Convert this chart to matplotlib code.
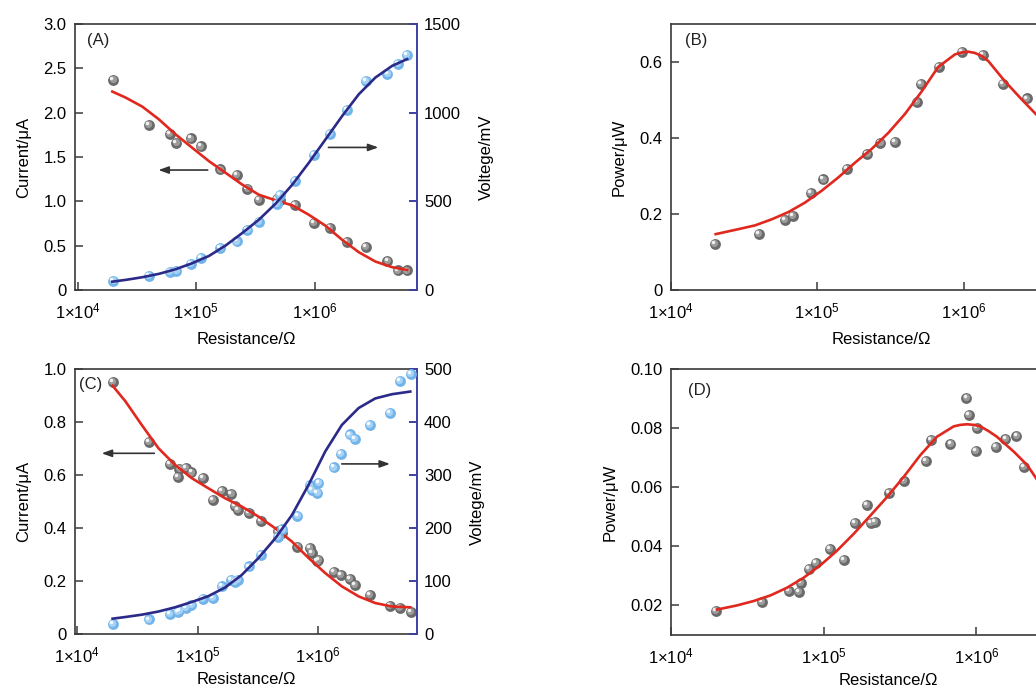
import matplotlib
matplotlib.use("Agg")
import matplotlib.pyplot as plt
import matplotlib.transforms as mtransforms
from matplotlib.ticker import FixedLocator, NullLocator

plt.rcParams['font.family'] = ['Liberation Sans', 'DejaVu Sans']
plt.rcParams['mathtext.fontset'] = 'custom'
plt.rcParams['mathtext.rm'] = 'Liberation Sans'
plt.rcParams['mathtext.it'] = 'Liberation Sans:italic'
plt.rcParams['mathtext.bf'] = 'Liberation Sans:bold'

# --- measured points, cell 1 (panels A and B) ---
R_AB = [2.0e4, 4.0e4, 6.0e4, 6.8e4, 9.0e4, 1.1e5, 1.6e5, 2.2e5, 2.7e5, 3.4e5,
        4.8e5, 5.1e5, 6.8e5, 9.8e5, 1.35e6, 1.85e6, 2.7e6, 4.1e6, 5.0e6, 6.0e6]
I_A = [2.37, 1.86, 1.76, 1.66, 1.71, 1.62, 1.36, 1.30, 1.14, 1.02,
       1.03, 1.015, 0.955, 0.76, 0.70, 0.54, 0.49, 0.33, 0.22, 0.22]
V_A = [51, 79, 100, 109, 147, 181, 236, 274, 340, 383,
       485, 534, 617, 760, 881, 1015, 1179, 1217, 1277, 1325]
P_B = [0.122, 0.147, 0.185, 0.195, 0.256, 0.291, 0.319, 0.359, 0.388, 0.390,
       0.496, 0.543, 0.587, 0.626, 0.618, 0.543, 0.504, 0.40, 0.28, 0.29]

# fitted curves, cell 1
R_fit_A = [1.96e4, 2.54e4, 3.51e4, 4.84e4, 6.70e4, 9.25e4, 1.28e5, 1.77e5, 2.44e5, 3.37e5,
           4.67e5, 6.44e5, 8.89e5, 1.23e6, 1.70e6, 2.35e6, 3.24e6, 4.49e6, 6.0e6]
I_fit_A = [2.238, 2.170, 2.068, 1.925, 1.755, 1.604, 1.453, 1.321, 1.189, 1.075,
           1.011, 0.955, 0.849, 0.725, 0.566, 0.426, 0.321, 0.257, 0.226]
V_fit_A = [47, 57, 72, 91, 117, 151, 192, 251, 321, 396,
           487, 593, 717, 849, 981, 1104, 1198, 1264, 1302]
R_fit_B = [2.02e4, 2.88e4, 3.75e4, 4.88e4, 6.34e4, 8.24e4, 1.07e5, 1.39e5, 1.81e5, 2.35e5,
           3.05e5, 3.97e5, 5.16e5, 6.71e5, 8.73e5, 9.68e5, 1.08e6, 1.19e6, 1.33e6, 1.48e6,
           1.64e6, 1.91e6, 2.49e6, 3.21e6, 4.47e6, 6.03e6]
P_fit_B = [0.147, 0.160, 0.170, 0.186, 0.205, 0.230, 0.261, 0.296, 0.335, 0.371,
           0.413, 0.463, 0.522, 0.587, 0.620, 0.625, 0.627, 0.624, 0.616, 0.602,
           0.581, 0.550, 0.502, 0.458, 0.40, 0.35]

# --- measured points, cell 2 (panels C and D) ---
R_CD = [1.97e4, 3.94e4, 5.89e4, 6.84e4, 7.08e4, 8.04e4, 8.91e4, 1.10e5, 1.35e5, 1.60e5,
        1.91e5, 2.04e5, 2.16e5, 2.69e5, 3.37e5, 4.66e5, 5.07e5, 6.76e5, 8.61e5, 8.91e5,
        9.89e5, 1.01e6, 1.35e6, 1.55e6, 1.83e6, 2.04e6, 2.72e6, 3.94e6, 4.83e6, 5.92e6]
I_C = [0.953, 0.727, 0.643, 0.595, 0.623, 0.629, 0.611, 0.589, 0.507, 0.542,
       0.529, 0.485, 0.470, 0.459, 0.428, 0.388, 0.384, 0.331, 0.325, 0.306,
       0.275, 0.282, 0.234, 0.225, 0.208, 0.185, 0.149, 0.107, 0.099, 0.083]
V_C = [19.5, 28, 37.7, 42, 45, 49.6, 55.9, 66.5, 68.4, 90.4,
       103, 99, 102, 128, 149, 183, 198, 224, 281, 272,
       266, 285, 315, 340, 377, 368, 395, 418, 478, 492]
P_D = [0.0181, 0.0211, 0.0248, 0.0245, 0.0275, 0.0323, 0.0343, 0.0391, 0.0353, 0.0479,
       0.0541, 0.0479, 0.0482, 0.0582, 0.0620, 0.0689, 0.0760, 0.0747, 0.0902, 0.0845,
       0.0723, 0.0800, 0.0735, 0.0763, 0.0774, 0.0669, 0.0589, 0.0447, 0.0473, 0.0408]

# fitted curves, cell 2
R_fit_C = [1.97e4, 2.51e4, 3.44e4, 4.74e4, 6.52e4, 8.97e4, 1.23e5, 1.70e5, 2.33e5, 3.21e5,
           4.42e5, 6.08e5, 8.36e5, 1.15e6, 1.58e6, 2.18e6, 2.99e6, 4.12e6, 5.85e6]
I_fit_C = [0.938, 0.880, 0.790, 0.702, 0.639, 0.589, 0.551, 0.513, 0.482, 0.444,
           0.400, 0.350, 0.288, 0.231, 0.181, 0.143, 0.118, 0.105, 0.102]
V_fit_C = [29.5, 32.6, 37, 43, 51, 61, 72, 88.5, 112, 144,
           181, 225, 282, 345, 395, 427, 445, 453, 458]
R_fit_D = [2.00e4, 2.70e4, 3.48e4, 4.48e4, 5.75e4, 7.40e4, 9.51e4, 1.22e5, 1.57e5, 2.02e5,
           2.60e5, 3.34e5, 4.30e5, 5.52e5, 7.11e5, 7.86e5, 8.69e5, 9.61e5, 1.06e6, 1.20e6,
           1.36e6, 1.76e6, 2.15e6, 2.47e6, 3.55e6, 5.89e6]
P_fit_D = [0.0186, 0.0200, 0.0215, 0.0234, 0.0260, 0.0294, 0.0336, 0.0385, 0.0442, 0.0504,
           0.0567, 0.0635, 0.0709, 0.0771, 0.0806, 0.0811, 0.0813, 0.0811, 0.0806, 0.0790,
           0.0771, 0.0720, 0.0675, 0.0629, 0.053, 0.045]

X_TICKS = [1e4, 1e5, 1e6]
X_TICK_LABELS = [r'1$\times$10$^{4}$', r'1$\times$10$^{5}$', r'1$\times$10$^{6}$']

SPINE = '#3a3a3a'
RED = '#e0281e'
NAVY = '#2c2a88'
NAVY_SPINE = '#3d40a0'
GRAY_BALL = ('#6a6a6a', '#9c9c9c', '#f2f2f2')
BLUE_BALL = ('#72b4ea', '#a6d2f5', '#f6fbff')
FS = 12


def balls(ax, x, y, shades, ms=7.8, z=3):
    # shaded "sphere" markers: body, lighter core, small highlight to the upper left
    fig = ax.figure
    ax.plot(x, y, 'o', ms=ms, color=shades[0], mec='none', zorder=z)
    t1 = mtransforms.offset_copy(ax.transData, fig=fig, x=-0.6, y=0.6, units='points')
    ax.plot(x, y, 'o', ms=ms * 0.66, color=shades[1], mec='none', zorder=z, transform=t1)
    t2 = mtransforms.offset_copy(ax.transData, fig=fig, x=-1.4, y=1.4, units='points')
    ax.plot(x, y, 'o', ms=ms * 0.32, color=shades[2], mec='none', zorder=z, transform=t2)


def style_axes(ax, xlim, yticks, ylabels, ylim, ylabel, tag, tag_xy, xpad=8):
    ax.set_xscale('log')
    ax.set_xlim(*xlim)
    ax.xaxis.set_major_locator(FixedLocator(X_TICKS))
    ax.xaxis.set_minor_locator(NullLocator())
    ax.set_xticklabels(X_TICK_LABELS)
    ax.set_ylim(*ylim)
    ax.set_yticks(yticks)
    ax.set_yticklabels(ylabels)
    for s in ax.spines.values():
        s.set_color(SPINE)
        s.set_linewidth(1.2)
    ax.tick_params(which='both', direction='in', length=5.5, width=1.1, color=SPINE,
                   labelsize=FS, top=False, right=False)
    ax.tick_params(axis='x', pad=8)
    ax.tick_params(axis='y', pad=6)
    ax.set_xlabel('Resistance/Ω', fontsize=FS, labelpad=xpad)
    ax.set_ylabel(ylabel, fontsize=FS, labelpad=9)
    ax.text(tag_xy[0], tag_xy[1], tag, transform=ax.transAxes, fontsize=FS,
            ha='left', va='top', color='#222222')


def right_axis(ax, yticks, ylim, ylabel):
    ax2 = ax.twinx()
    ax2.set_ylim(*ylim)
    ax2.set_yticks(yticks)
    ax2.set_yticklabels([str(v) for v in yticks])
    for side in ('left', 'top', 'bottom'):
        ax2.spines[side].set_visible(False)
    ax.spines['right'].set_visible(False)
    ax2.spines['right'].set_color(NAVY_SPINE)
    ax2.spines['right'].set_linewidth(1.4)
    ax2.tick_params(axis='y', direction='in', length=5.5, width=1.4, color=NAVY_SPINE,
                    labelsize=FS, pad=5)
    ax2.set_ylabel(ylabel, fontsize=FS, labelpad=13)
    return ax2


def arrow(ax, tail, head):
    ax.annotate('', xy=head, xytext=tail, xycoords='axes fraction',
                textcoords='axes fraction',
                arrowprops=dict(arrowstyle='-|>,head_length=0.5,head_width=0.18',
                                color='#333333', lw=1.2, mutation_scale=12,
                                shrinkA=0, shrinkB=0))


fig = plt.figure(figsize=(10.36, 6.88), dpi=100)
W, H = 1036.0, 688.0

# panel A: current and voltage
axA = fig.add_axes([75 / W, 1 - 290 / H, 342 / W, 266 / H])
style_axes(axA, (9.5e3, 7.27e6), [0, 0.5, 1.0, 1.5, 2.0, 2.5, 3.0],
           ['0', '0.5', '1.0', '1.5', '2.0', '2.5', '3.0'], (0, 3.0),
           'Current/μA', '(A)', (0.034, 0.965))
balls(axA, R_AB, I_A, GRAY_BALL)
axA.plot(R_fit_A, I_fit_A, color=RED, lw=1.9, zorder=4)
arrow(axA, (0.388, 0.451), (0.244, 0.451))
arrow(axA, (0.741, 0.536), (0.887, 0.536))
axA2 = right_axis(axA, [0, 500, 1000, 1500], (0, 1500), 'Voltege/mV')
balls(axA2, R_AB, V_A, BLUE_BALL)
axA2.plot(R_fit_A, V_fit_A, color=NAVY, lw=1.9, zorder=4)

# panel B: power
axB = fig.add_axes([671 / W, 1 - 290 / H, 421 / W, 266 / H])
style_axes(axB, (1e4, 7.55e6), [0, 0.2, 0.4, 0.6], ['0', '0.2', '0.4', '0.6'],
           (0, 0.7), 'Power/μW', '(B)', (0.033, 0.965))
balls(axB, R_AB, P_B, GRAY_BALL)
axB.plot(R_fit_B, P_fit_B, color=RED, lw=1.9, zorder=4)

# panel C: current and voltage
axC = fig.add_axes([75 / W, 1 - 634.3 / H, 342 / W, 265 / H])
style_axes(axC, (9.6e3, 6.65e6), [0, 0.2, 0.4, 0.6, 0.8, 1.0],
           ['0', '0.2', '0.4', '0.6', '0.8', '1.0'], (0, 1.0),
           'Current/μA', '(C)', (0.012, 0.972), xpad=5)
balls(axC, R_CD, I_C, GRAY_BALL)
axC.plot(R_fit_C, I_fit_C, color=RED, lw=1.9, zorder=4)
arrow(axC, (0.232, 0.683), (0.078, 0.683))
arrow(axC, (0.780, 0.643), (0.921, 0.643))
axC2 = right_axis(axC, [0, 100, 200, 300, 400, 500], (0, 500), 'Voltege/mV')
balls(axC2, R_CD, V_C, BLUE_BALL)
axC2.plot(R_fit_C, V_fit_C, color=NAVY, lw=1.9, zorder=4)

# panel D: power
axD = fig.add_axes([671 / W, 1 - 635 / H, 434 / W, 266 / H])
style_axes(axD, (1e4, 6.95e6), [0.02, 0.04, 0.06, 0.08, 0.10],
           ['0.02', '0.04', '0.06', '0.08', '0.10'], (0.01, 0.10),
           'Power/μW', '(D)', (0.039, 0.949), xpad=5)
balls(axD, R_CD, P_D, GRAY_BALL)
axD.plot(R_fit_D, P_fit_D, color=RED, lw=1.9, zorder=4)

fig.savefig('out.png', dpi=100)
